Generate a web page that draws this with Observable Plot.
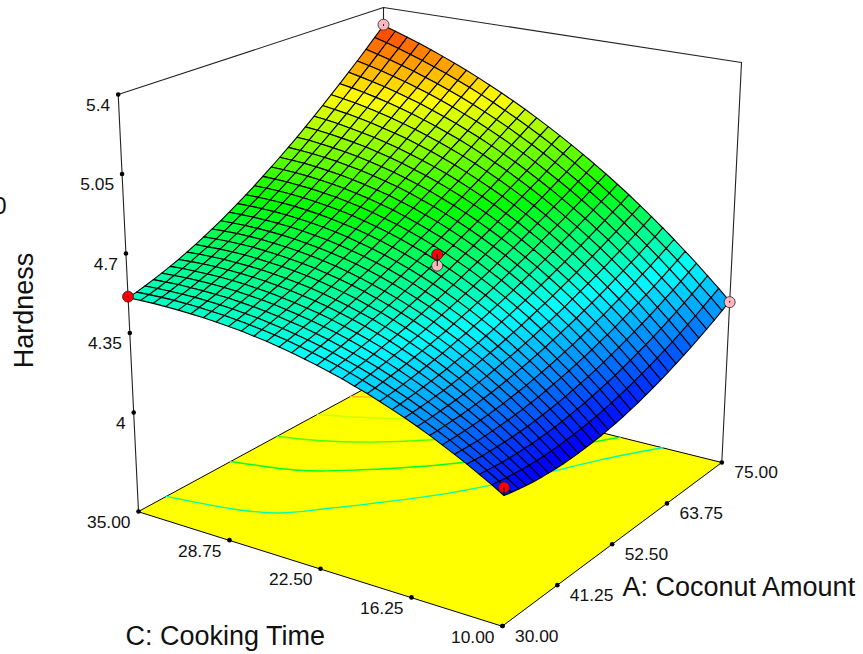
<!DOCTYPE html>
<html><head><meta charset="utf-8">
<style>html,body{margin:0;padding:0;background:#fff}svg{display:block}</style>
<script src="https://cdn.jsdelivr.net/npm/d3@7"></script>
<script src="https://cdn.jsdelivr.net/npm/@observablehq/plot@0.6"></script>
</head><body><div id="chart"></div>
<script>
const coconutTicks=[30,41.25,52.5,63.75,75];
const cookingTicks=[35,28.75,22.5,16.25,10];
const hardnessTicks=[4,4.35,4.7,5.05,5.4];
const contourLevels=[4.54,4.69,4.84,4.99,5.15];
// Floor contours: A and C along each level.
const contourCoconut=[
 [35.13,37.16,39,42.9,52.5,57.45,63.1,69.15,75],
 [46.92,49.49,53.22,60.69,72.3,75],
 [55.47,57,59.84,63.75,70.5],
 [62.85,64.43,66.45,70],
 [68.93,69.6,71]];
const contourCooking=[
 [35,30.4,28.53,26.68,22.43,20.6,18.73,16.8,14.38],
 [35,30.9,28.18,23.8,18.7,17.5],
 [35,32.73,30,27.3,23.75],
 [35,33,30.88,27],
 [35,34.3,33]];
const pointCoconut=[75,75,52.5,30,30,52.5];
const pointCooking=[35,10,22.5,35,10,22.5];
const pointHardness=[5.315,4.3,4.591,4.51,4.13,4.641];
const pointColor=["#ffb6c1","#ffb6c1","#ffb6c1","#ff0000","#ff0000","#ff0000"];
// Hardness x1000 at each mesh node; rows C=10..35, columns A=30..75.
// Estimates: the edges and centre were read off the picture, the nodes between them are hand-smoothed guesses, not measurements.
const hardnessGrid=[
[4097,4089,4083,4077,4072,4068,4066,4064,4063,4064,4065,4068,4071,4075,4081,4087,4094,4103,4112,4123,4134,4147,4160,4175,4190,4207,4224,4243,4262,4283,4304],
[4127,4121,4115,4111,4108,4105,4104,4103,4104,4105,4108,4111,4115,4120,4126,4133,4141,4150,4160,4171,4183,4195,4209,4224,4239,4256,4273,4291,4311,4331,4352],
[4155,4151,4147,4144,4142,4141,4141,4141,4143,4145,4148,4153,4158,4164,4170,4178,4187,4196,4206,4218,4230,4243,4257,4271,4287,4304,4321,4339,4358,4378,4399],
[4183,4180,4177,4176,4175,4175,4176,4178,4180,4184,4188,4193,4199,4205,4213,4221,4230,4240,4251,4263,4275,4289,4303,4318,4334,4350,4368,4386,4405,4425,4446],
[4209,4207,4206,4206,4206,4208,4210,4213,4216,4220,4226,4231,4238,4246,4254,4263,4273,4283,4294,4307,4319,4333,4348,4363,4379,4395,4413,4431,4450,4470,4491],
[4234,4234,4234,4235,4237,4239,4242,4246,4250,4256,4262,4268,4276,4284,4293,4303,4313,4324,4336,4348,4362,4376,4391,4406,4422,4439,4457,4475,4494,4514,4535],
[4259,4259,4261,4263,4265,4269,4273,4278,4283,4289,4296,4304,4312,4321,4331,4341,4352,4364,4376,4389,4403,4417,4432,4448,4465,4482,4500,4518,4538,4557,4578],
[4282,4283,4286,4289,4293,4297,4302,4308,4314,4321,4329,4338,4347,4356,4366,4377,4389,4401,4414,4428,4442,4457,4472,4489,4505,4523,4541,4560,4579,4599,4620],
[4304,4307,4310,4314,4319,4324,4330,4337,4344,4352,4361,4370,4379,4390,4401,4412,4425,4438,4451,4465,4480,4495,4511,4528,4545,4563,4581,4600,4620,4640,4661],
[4324,4328,4333,4338,4344,4350,4357,4364,4373,4381,4390,4400,4411,4422,4434,4446,4459,4472,4486,4501,4516,4532,4548,4566,4583,4601,4620,4640,4660,4680,4702],
[4344,4349,4354,4360,4367,4374,4382,4390,4399,4409,4419,4429,4441,4452,4465,4478,4491,4505,4520,4535,4551,4567,4584,4602,4620,4639,4658,4678,4698,4719,4741],
[4363,4368,4375,4382,4389,4397,4406,4415,4424,4435,4445,4457,4469,4481,4494,4508,4522,4537,4552,4568,4584,4601,4619,4637,4655,4674,4694,4714,4735,4757,4779],
[4380,4387,4394,4402,4410,4419,4428,4438,4448,4459,4471,4483,4495,4508,4522,4536,4551,4566,4582,4599,4616,4633,4651,4670,4689,4709,4729,4750,4771,4793,4816],
[4397,4404,4412,4420,4429,4439,4449,4459,4470,4482,4494,4507,4520,4534,4548,4563,4579,4595,4611,4628,4646,4664,4683,4702,4722,4742,4763,4784,4806,4829,4852],
[4412,4420,4428,4437,4447,4457,4468,4479,4491,4503,4516,4529,4543,4558,4573,4588,4604,4621,4638,4656,4674,4693,4712,4732,4753,4774,4795,4817,4840,4863,4887],
[4426,4435,4444,4453,4464,4474,4486,4498,4510,4523,4536,4550,4565,4580,4596,4612,4629,4646,4664,4682,4701,4721,4741,4762,4783,4804,4827,4849,4873,4897,4921],
[4439,4448,4458,4468,4479,4490,4502,4514,4527,4541,4555,4570,4585,4601,4617,4634,4652,4670,4688,4707,4727,4747,4768,4789,4811,4834,4857,4880,4904,4929,4954],
[4451,4461,4471,4481,4493,4505,4517,4530,4544,4558,4572,4588,4604,4620,4637,4654,4673,4691,4711,4730,4751,4772,4793,4815,4838,4861,4885,4910,4934,4960,4986],
[4462,4472,4482,4494,4505,4518,4531,4544,4558,4573,4588,4604,4620,4637,4655,4673,4692,4711,4731,4752,4773,4795,4817,4840,4864,4888,4912,4938,4964,4990,5017],
[4472,4482,4493,4504,4516,4529,4543,4557,4571,4586,4602,4619,4636,4653,4672,4690,4710,4730,4751,4772,4794,4817,4840,4864,4888,4913,4939,4965,4992,5019,5047],
[4480,4491,4502,4514,4526,4539,4553,4568,4583,4598,4615,4632,4649,4667,4686,4706,4726,4747,4768,4791,4813,4837,4861,4885,4911,4937,4963,4991,5019,5047,5076],
[4488,4498,4510,4522,4535,4548,4562,4577,4593,4609,4626,4643,4661,4680,4700,4720,4741,4762,4785,4808,4831,4855,4880,4906,4932,4959,4987,5015,5044,5074,5104],
[4494,4505,4516,4529,4542,4556,4570,4585,4601,4618,4635,4653,4672,4691,4711,4732,4754,4776,4799,4823,4847,4873,4898,4925,4952,4980,5009,5039,5069,5100,5131],
[4499,4510,4522,4534,4547,4561,4576,4592,4608,4625,4643,4661,4680,4700,4721,4743,4765,4788,4812,4837,4862,4888,4915,4943,4971,5000,5030,5061,5092,5124,5157],
[4503,4514,4526,4539,4552,4566,4581,4597,4613,4631,4649,4668,4688,4708,4730,4752,4775,4799,4823,4849,4875,4902,4930,4959,4988,5019,5050,5082,5114,5148,5182],
[4506,4517,4529,4541,4555,4569,4584,4600,4617,4635,4653,4673,4693,4714,4736,4759,4783,4808,4833,4859,4887,4915,4944,4973,5004,5036,5068,5101,5135,5170,5206],
[4508,4519,4531,4543,4557,4571,4586,4602,4620,4638,4657,4676,4697,4719,4742,4765,4790,4815,4841,4869,4897,4926,4956,4987,5019,5052,5085,5120,5155,5192,5229],
[4509,4520,4531,4543,4557,4571,4587,4603,4620,4639,4658,4678,4699,4722,4745,4769,4794,4821,4848,4876,4905,4935,4966,4999,5032,5066,5101,5137,5174,5212,5251],
[4509,4519,4530,4543,4556,4570,4586,4602,4620,4638,4658,4678,4700,4723,4747,4772,4798,4825,4853,4882,4912,4943,4976,5009,5044,5079,5116,5153,5192,5231,5272],
[4508,4517,4528,4540,4553,4568,4583,4600,4617,4636,4656,4677,4699,4723,4747,4773,4799,4827,4856,4886,4918,4950,4984,5018,5054,5091,5129,5168,5208,5250,5292],
[4505,4514,4525,4537,4550,4564,4579,4596,4614,4633,4653,4674,4697,4721,4746,4772,4800,4828,4858,4889,4921,4955,4990,5026,5063,5101,5141,5181,5223,5267,5311]];

const Amin=30,Amax=75,Cmin=10,Cmax=35,Hmin=3.564,Hmax=5.4;
// camera: where the box corners fall on the page
const cam={F0:[502,625.5],R0:[721.3,462],L0:[138,511],B0:[383,378],F1:[507,176],R1:[741,62],L1:[117.7,94],B1:[383,7]};
const bil=(F,R,L,B,u,v,k)=>(1-u)*(1-v)*F[k]+u*(1-v)*R[k]+(1-u)*v*L[k]+u*v*B[k];
function proj(A,C,H){
  const u=(A-Amin)/(Amax-Amin),v=(C-Cmin)/(Cmax-Cmin),w=(H-Hmin)/(Hmax-Hmin);
  const f=k=>(1-w)*bil(cam.F0,cam.R0,cam.L0,cam.B0,u,v,k)+w*bil(cam.F1,cam.R1,cam.L1,cam.B1,u,v,k);
  return {x:f(0),y:f(1)};
}
const nC=hardnessGrid.length,nA=hardnessGrid[0].length;
const Aat=i=>Amin+(Amax-Amin)*i/(nA-1),Cat=j=>Cmin+(Cmax-Cmin)*j/(nC-1);
const Hat=(j,i)=>hardnessGrid[j][i]/1000;

const cells=[];
let id=0;
for(let j=nC-2;j>=0;j--)for(let i=nA-2;i>=0;i--){
  const h=(Hat(j,i)+Hat(j+1,i)+Hat(j,i+1)+Hat(j+1,i+1))/4;
  for(const [a,b] of [[i,j],[i+1,j],[i+1,j+1],[i,j+1]])
    cells.push({...proj(Aat(a),Cat(b),Hat(b,a)),id,h});
  id++;
}
const seg=(name,pts)=>pts.map(p=>({...proj(...p),name}));
const floorPts=seg("floor",[[Amin,Cmin,Hmin],[Amax,Cmin,Hmin],[Amax,Cmax,Hmin],[Amin,Cmax,Hmin]]);
const frame=[
 ...seg("a",[[Amin,Cmax,Hmax],[Amax,Cmax,Hmax],[Amax,Cmin,Hmax]]),
 ...seg("b",[[Amin,Cmax,Hmin],[Amin,Cmax,Hmax]]),
 ...seg("c",[[Amax,Cmin,Hmin],[Amax,Cmin,Hmax]]),
 ...seg("d",[[Amax,Cmax,Hmin],[Amax,Cmax,Hmax]])
];
const contours=contourLevels.flatMap((L,k)=>contourCoconut[k].map((a,n)=>({...proj(a,contourCooking[k][n],Hmin),L})));
function surfaceAt(A,C){
  const i=Math.round((A-Amin)/(Amax-Amin)*(nA-1)),j=Math.round((C-Cmin)/(Cmax-Cmin)*(nC-1));
  return Hat(j,i);
}
const points=pointCoconut.map((a,k)=>({...proj(a,pointCooking[k],pointHardness[k]),fill:pointColor[k]}));
const stems=pointCoconut.flatMap((a,k)=>[
  {...proj(a,pointCooking[k],pointHardness[k]),k},
  {...proj(a,pointCooking[k],surfaceAt(a,pointCooking[k])),k}]);
const aT=coconutTicks.map(v=>({...proj(v,Cmin,Hmin),t:v.toFixed(2)}));
const cT=cookingTicks.map(v=>({...proj(Amin,v,Hmin),t:v.toFixed(2)}));
const hT=hardnessTicks.map(v=>({...proj(Amin,Cmax,v),t:String(v)}));
const ts=17.4;
const chart=Plot.plot({
  width:863,height:654,margin:0,
  style:{fontFamily:"'Liberation Sans',Arial,sans-serif",background:"#fff"},
  x:{domain:[0,863],range:[0,863],axis:null},
  y:{domain:[0,654],range:[0,654],axis:null},
  color:{type:"linear",domain:[4.08,4.44,4.74,5.06,5.38],range:["#0000ff","#00ffff","#00ff00","#ffff00","#ff0000"]},
  marks:[
    Plot.line(floorPts,{x:"x",y:"y",curve:"linear-closed",fill:"#ffff00",stroke:"#000",strokeWidth:1}),
    Plot.line(frame,{x:"x",y:"y",z:"name",stroke:"#222",strokeWidth:1.1}),
    Plot.line(contours,{x:"x",y:"y",z:"L",stroke:"L",strokeWidth:1.4,curve:"catmull-rom"}),
    Plot.line(cells,{x:"x",y:"y",z:"id",curve:"linear-closed",fill:"h",stroke:"#000",strokeWidth:1.1}),
    Plot.dot(points,{x:"x",y:"y",r:5.5,fill:"fill",stroke:"#222",strokeWidth:.8}),
    Plot.line(stems,{x:"x",y:"y",z:"k",stroke:"#000",strokeWidth:1}),
    Plot.dot([...aT,...cT,...hT],{x:"x",y:"y",r:2.3,fill:"#000"}),
    Plot.text(aT,{x:"x",y:"y",text:"t",dx:12.5,dy:10,textAnchor:"start",fontSize:ts,fill:"#111"}),
    Plot.text(cT,{x:"x",y:"y",text:"t",dx:-8,dy:11,textAnchor:"end",fontSize:ts,fill:"#111"}),
    Plot.text(hT,{x:"x",y:"y",text:"t",dx:-8,dy:10.5,textAnchor:"end",fontSize:ts,fill:"#111"}),
    Plot.text(["C: Cooking Time"],{frameAnchor:"top-left",lineAnchor:"middle",dx:125,dy:636,textAnchor:"start",fontSize:27,fill:"#111"}),
    Plot.text(["A: Coconut Amount"],{frameAnchor:"top-left",lineAnchor:"middle",dx:622,dy:587,textAnchor:"start",fontSize:27,fill:"#111"}),
    Plot.text(["Hardness"],{frameAnchor:"top-left",lineAnchor:"middle",dx:24,dy:310,rotate:-90,textAnchor:"middle",fontSize:27,fill:"#111"}),
    Plot.text(["0"],{frameAnchor:"top-left",lineAnchor:"middle",dx:6,dy:206,textAnchor:"end",fontSize:24,fill:"#111"})
  ]
});
document.getElementById("chart").append(chart);
</script></body></html>
